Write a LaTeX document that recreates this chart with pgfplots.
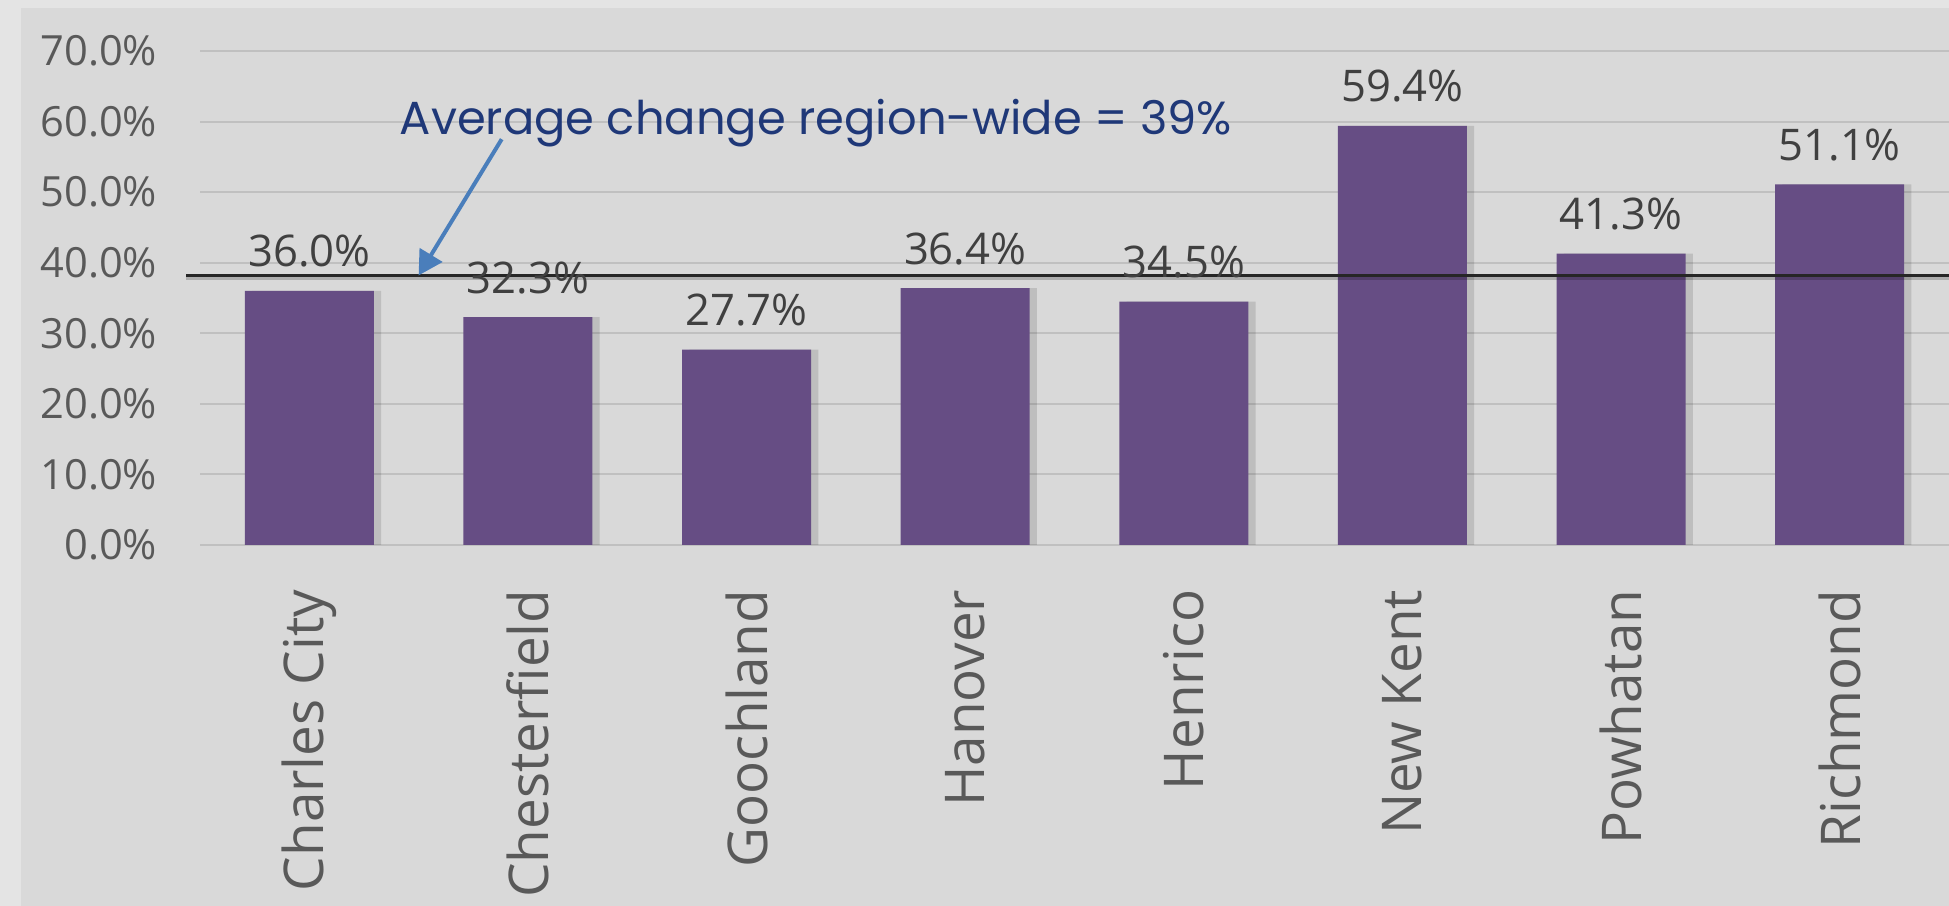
\documentclass[border=0pt]{standalone}
\usepackage{pgfplots}
\pgfplotsset{compat=1.18}
\usepackage{fontspec}
\setmainfont{Open Sans}
\newfontfamily\annfont{Poppins}
\usetikzlibrary{arrows.meta}
\definecolor{outerbg}{RGB}{228,228,228}
\definecolor{panelbg}{RGB}{217,217,217}
\definecolor{barc}{RGB}{102,77,132}
\definecolor{gridc}{RGB}{192,192,192}
\definecolor{tickc}{RGB}{89,89,89}
\definecolor{labc}{RGB}{64,64,64}
\definecolor{linec}{RGB}{38,38,38}
\definecolor{arrowc}{RGB}{74,126,187}
\definecolor{annc}{RGB}{31,56,120}

\begin{document}
\begin{tikzpicture}
\useasboundingbox (0,0) rectangle (487.25pt,226.5pt);
\fill[outerbg] (0,0) rectangle (487.25pt,226.5pt);
\fill[panelbg] (5.25pt,0) rectangle (487.25pt,224.5pt);
\begin{axis}[
  at={(50pt,90.25pt)}, anchor=south west,
  width=437.25pt, height=123.5pt, scale only axis,
  xmin=-0.5, xmax=7.5, ymin=0, ymax=70,
  clip=false,
  axis line style={draw=none},
  major tick length=0pt,
  xtick={0,...,7},
  xticklabels={Charles City,Chesterfield,Goochland,Hanover,Henrico,New Kent,Powhatan,Richmond},
  ytick={0,10,...,70},
  /pgf/number format/assume math mode=true,
  yticklabel={\pgfmathprintnumber[fixed,fixed zerofill,precision=1]{\tick}\%},
  ymajorgrids, grid style={color=gridc, line width=0.5pt},
  yticklabel style={font=\fontsize{10.4}{12}\selectfont, color=tickc, inner sep=0pt, anchor=east},
  yticklabel shift=10.5pt,
  xticklabel style={font=\fontsize{13.7}{15}\selectfont, color=tickc, rotate=90, anchor=east, inner sep=0pt},
  xticklabel shift=11pt,
]
% bar shadows
\addplot[ybar, bar width=32.25pt, bar shift=1.8pt, fill=black, opacity=0.12, draw=none, forget plot]
  coordinates {(0,36.0)(1,32.3)(2,27.7)(3,36.4)(4,34.5)(5,59.4)(6,41.3)(7,51.1)};
% bars
\addplot[ybar, bar width=32.25pt, fill=barc, draw=none,
  nodes near coords={\pgfmathprintnumber[fixed,fixed zerofill,precision=1]{\pgfplotspointmeta}\%},
  nodes near coords style={font=\fontsize{10.9}{12}\selectfont, color=labc, yshift=2.3pt}]
  coordinates {(0,36.0)(1,32.3)(2,27.7)(3,36.4)(4,34.5)(5,59.4)(6,41.3)(7,51.1)};
% average line
\addplot[black, opacity=0.2, line width=1pt, forget plot] coordinates {(-0.564,37.9) (7.5,37.9)};
\addplot[linec, line width=0.8pt] coordinates {(-0.564,38.2) (7.5,38.2)};
% arrow
\addplot[arrowc, line width=1pt, -{Triangle[length=6pt,width=6.5pt]}]
  coordinates {(0.88,57.5) (0.50,38.2)};
\node[anchor=base west, font=\annfont\fontsize{11.6}{13}\selectfont, color=annc, inner sep=0pt]
  at (axis cs:0.41,58.2) {Average change region-wide = 39\%};
\end{axis}
\end{tikzpicture}
\end{document}
